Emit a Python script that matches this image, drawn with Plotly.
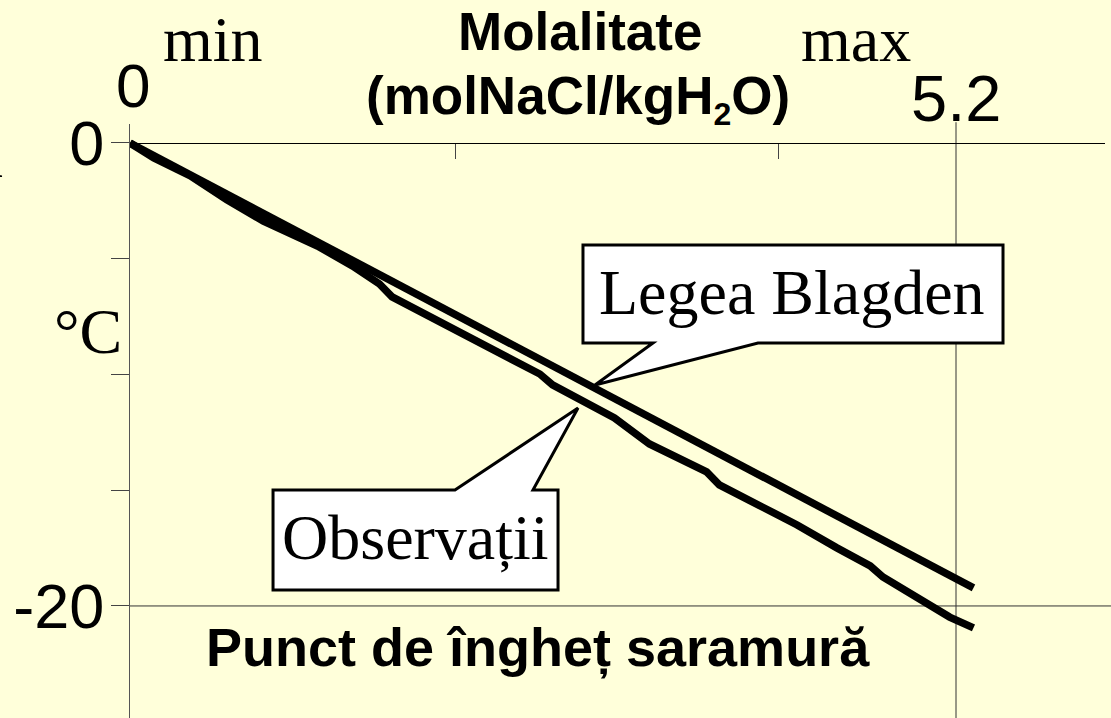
import plotly.graph_objects as go

# molality (mol NaCl / kg H2O) vs freezing point (deg C)
blagden_x = [0.0, 5.31]
blagden_y = [0.0, -19.22]

obs_x = [0.0, 0.15, 0.38, 0.61, 0.84, 1.18, 1.40, 1.57, 1.65, 1.91, 2.16, 2.37,
         2.58, 2.66, 2.85, 3.05, 3.27, 3.46, 3.63, 3.71, 3.90, 4.20, 4.45, 4.66,
         4.74, 4.85, 4.95, 5.06, 5.16, 5.31]
obs_y = [0.0, -0.65, -1.42, -2.45, -3.38, -4.45, -5.31, -6.09, -6.65, -7.56, -8.42, -9.24,
         -9.98, -10.45, -11.19, -11.88, -13.00, -13.61, -14.21, -14.77, -15.42, -16.50, -17.49, -18.27,
         -18.75, -19.22, -19.61, -20.04, -20.48, -20.95]

y_tick_vals = [0, -5, -10, -15, -20]
y_tick_text = ["0", "", "", "", "-20"]
x_tick_vals = [2.05, 4.08, 6.14]
x_label_vals = [0, 5.2]
x_label_text = ["0", "5.2"]

W, H = 1111, 718
L, R, T, B = 130, 6, 124, 0
BG = "#FFFFDA"
SANS = "Liberation Sans"
SERIF = "Liberation Serif"


def px(xp, yp):
    """pixel position -> paper coordinates"""
    return (xp - L) / (W - L - R), (H - B - yp) / (H - T - B)


def path(points):
    parts = []
    for i, (xp, yp) in enumerate(points):
        x, y = px(xp, yp)
        parts.append(("M" if i == 0 else "L") + f"{x:.4f},{y:.4f}")
    return " ".join(parts) + " Z"


fig = go.Figure()

fig.add_trace(go.Scatter(x=blagden_x, y=blagden_y, mode="lines",
                         line=dict(color="black", width=7.5), name="Legea Blagden"))
fig.add_trace(go.Scatter(x=obs_x, y=obs_y, mode="lines",
                         line=dict(color="black", width=7.5), name="Observații"))

# gridlines at 5.2 and -20
fig.add_shape(type="line", xref="x", yref="paper", x0=5.2, x1=5.2, y0=0, y1=1.003,
              line=dict(color="#333333", width=1), layer="below")
fig.add_shape(type="line", xref="paper", yref="y", x0=0, x1=1.01, y0=-20, y1=-20,
              line=dict(color="#333333", width=1), layer="below")

# callouts
fig.add_shape(type="path", xref="paper", yref="paper",
              path=path([(583, 245), (1003, 245), (1003, 343), (758, 343), (595, 385), (653, 343), (583, 343)]),
              fillcolor="white", line=dict(color="black", width=3))
fig.add_shape(type="path", xref="paper", yref="paper",
              path=path([(273, 490), (455, 490), (578, 408), (533, 490), (558, 490), (558, 590), (273, 590)]),
              fillcolor="white", line=dict(color="black", width=3))


def label(text, xp, yp, size, family, bold=False, xanchor="center"):
    x, y = px(xp, yp)
    fig.add_annotation(x=x, y=y, xref="paper", yref="paper", text=f"<b>{text}</b>" if bold else text,
                       showarrow=False, xanchor=xanchor, yanchor="middle",
                       font=dict(size=size, family=family, color="black"))


label("Molalitate", 580, 31, 53, SANS, bold=True)
label("(molNaCl/kgH<sub><span style='font-size:32px'>2</span></sub>O)", 578, 99, 53, SANS, bold=True)
label("min", 213, 40, 64, SERIF)
label("max", 856, 40, 64, SERIF)
label(x_label_text[0], L + x_label_vals[0] * 158.85 + 3, 86, 62, SANS)
label(x_label_text[1], L + x_label_vals[1] * 158.85, 99, 65, SANS)
label("°C", 88, 331, 64, SERIF)
label("n", 5, 155, 64, SERIF, xanchor="right")
label("Punct de îngheț saramură", 538, 648, 54, SANS, bold=True)
label("Legea Blagden", 792, 292, 64, SERIF)
label("Observații", 415, 537, 64, SERIF)

fig.update_layout(
    width=W, height=H, autosize=False,
    margin=dict(l=L, r=R, t=T, b=B, pad=0),
    paper_bgcolor=BG, plot_bgcolor=BG,
    showlegend=False,
    xaxis=dict(range=[0, 6.138], side="top", anchor="free", position=px(0, 143)[1],
               showgrid=False, zeroline=False, showline=True, linecolor="black", linewidth=1,
               tickvals=x_tick_vals, ticks="inside", ticklen=15, tickcolor="#444444",
               showticklabels=False, fixedrange=True),
    yaxis=dict(range=[-24.84, 0.82], showgrid=False, zeroline=False, showline=True,
               linecolor="#555555", linewidth=1, tickvals=y_tick_vals, ticktext=y_tick_text,
               ticks="outside", ticklen=18, tickcolor="#444444", ticklabelstandoff=-6,
               tickfont=dict(size=63, family=SANS, color="black"), fixedrange=True),
)

# page body margin would push the figure off by 8px
fig.write_html("out.html", config={"displayModeBar": False},
               post_script="document.body.style.margin='0';document.body.style.overflow='hidden';")
